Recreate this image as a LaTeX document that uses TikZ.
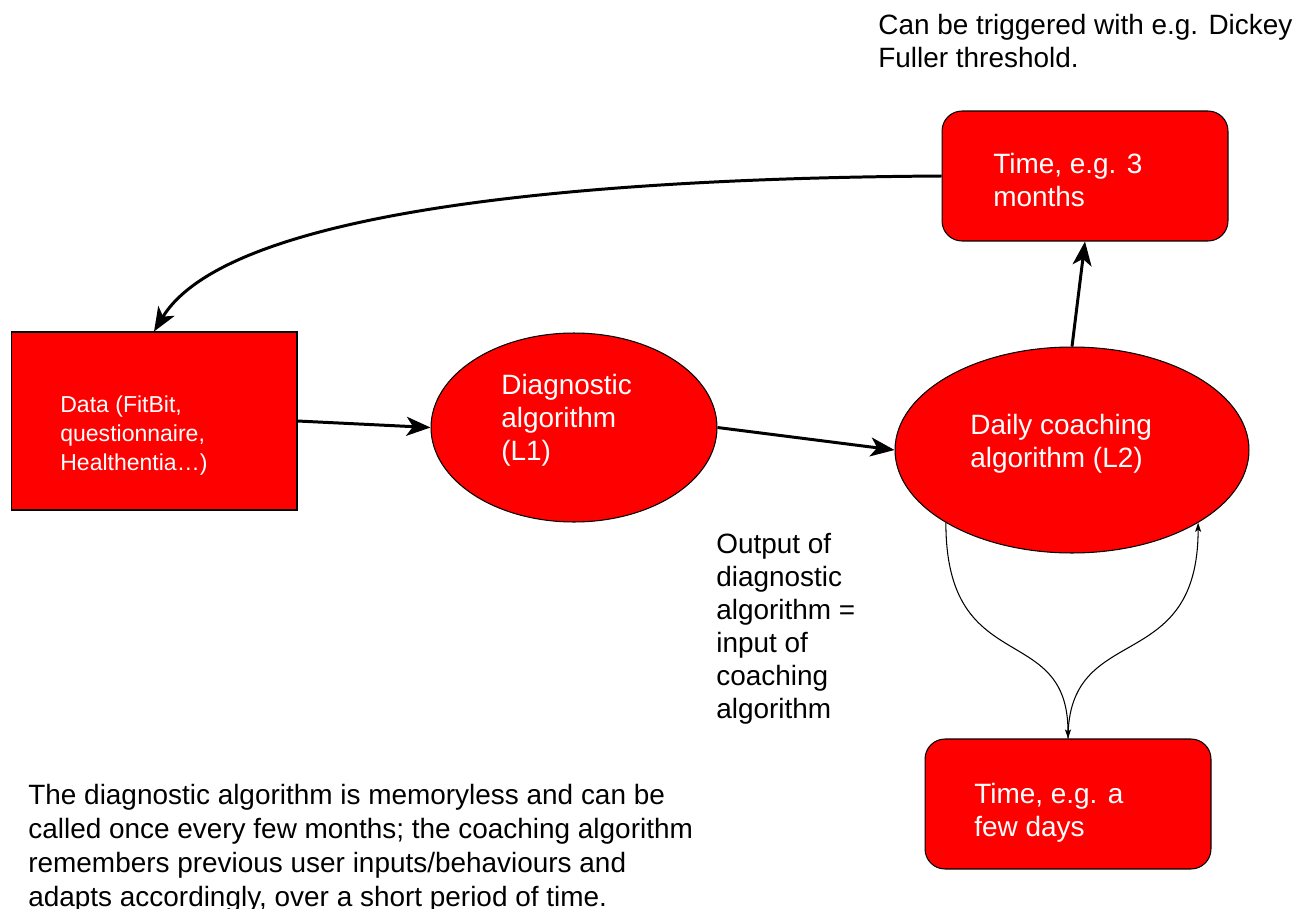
\documentclass[tikz,border=0pt]{standalone}
\usepackage{fontspec}
\setmainfont{Liberation Sans}
\usetikzlibrary{shapes.geometric,arrows.meta}

\begin{document}
\begin{tikzpicture}[x=0.02cm,y=-0.02cm,
    redbox/.style={draw,line width=0.6pt,fill=red,inner sep=0pt,minimum width=5.72cm},
    redoval/.style={draw,line width=0.6pt,fill=red,ellipse,inner sep=0pt},
    whitetxt/.style={text=white,inner sep=0pt,anchor=west,align=left,font=\fontsize{15.9}{18.8}\selectfont},
    note/.style={inner sep=0pt,anchor=west,align=left,font=\fontsize{15.9}{18.8}\selectfont},
    bigarrow/.style={line width=1.7pt,-{Stealth[length=0.48cm,width=0.38cm,inset=0.13cm]}},
    smallarrow/.style={line width=0.6pt,-{Stealth[length=0.18cm,width=0.12cm,inset=0.04cm]}}]
    \useasboundingbox (0,0) rectangle (1305,909);

    % boxes and ovals
    \node[redbox,minimum height=3.56cm] (data) at (154,421) {};
    \node[redoval,minimum width=5.72cm,minimum height=3.78cm] (diag) at (574,427.5) {};
    \node[redoval,minimum width=7.08cm,minimum height=4.12cm] (daily) at (1072,450) {};
    \node[redbox,rounded corners=0.4cm,minimum height=2.6cm] (months) at (1085,176) {};
    \node[redbox,rounded corners=0.4cm,minimum height=2.6cm] (days) at (1068,804) {};

    % texts inside
    \node[whitetxt,font=\fontsize{13.1}{16.5}\selectfont] (datatxt) at (60,436)
        {Data (FitBit,\\questionnaire,\\Healthentia…)};
    \node[whitetxt] (diagtxt) at (501,420) {Diagnostic\\algorithm\\(L1)};
    \node[whitetxt] (dailytxt) at (970,444) {Daily coaching\\algorithm (L2)};
    \node[whitetxt] (monthstxt) at (993,180) {Time, e.g. 3\\months};
    \node[whitetxt] (daystxt) at (974,813) {Time, e.g. a\\few days};

    % notes
    \node[note] (trigger) at (878,41.5) {Can be triggered with e.g. Dickey\\Fuller threshold.};
    \node[note] (output) at (716,629)
        {Output of\\diagnostic\\algorithm =\\input of\\coaching\\algorithm};
    \node[note,font=\fontsize{15.9}{19.35}\selectfont] (memo) at (28,848)
        {The diagnostic algorithm is memoryless and can be\\
         called once every few months; the coaching algorithm\\
         remembers previous user inputs/behaviours and\\
         adapts accordingly, over a short period of time.};

    % connectors
    \draw[bigarrow] (data.east) -- (diag.west);
    \draw[bigarrow] (diag.east) -- (daily.west);
    \draw[bigarrow] (daily.north) -- (months.south);
    \draw[bigarrow] (months.west) .. controls +(-322,2) and +(77,-127) .. (data.north);
    \draw[smallarrow] (daily.210) .. controls +(0,157) and +(0,-119) .. (days.north);
    \draw[smallarrow] (days.north) .. controls +(0,-119) and +(0,155) .. (daily.330);
\end{tikzpicture}
\end{document}
